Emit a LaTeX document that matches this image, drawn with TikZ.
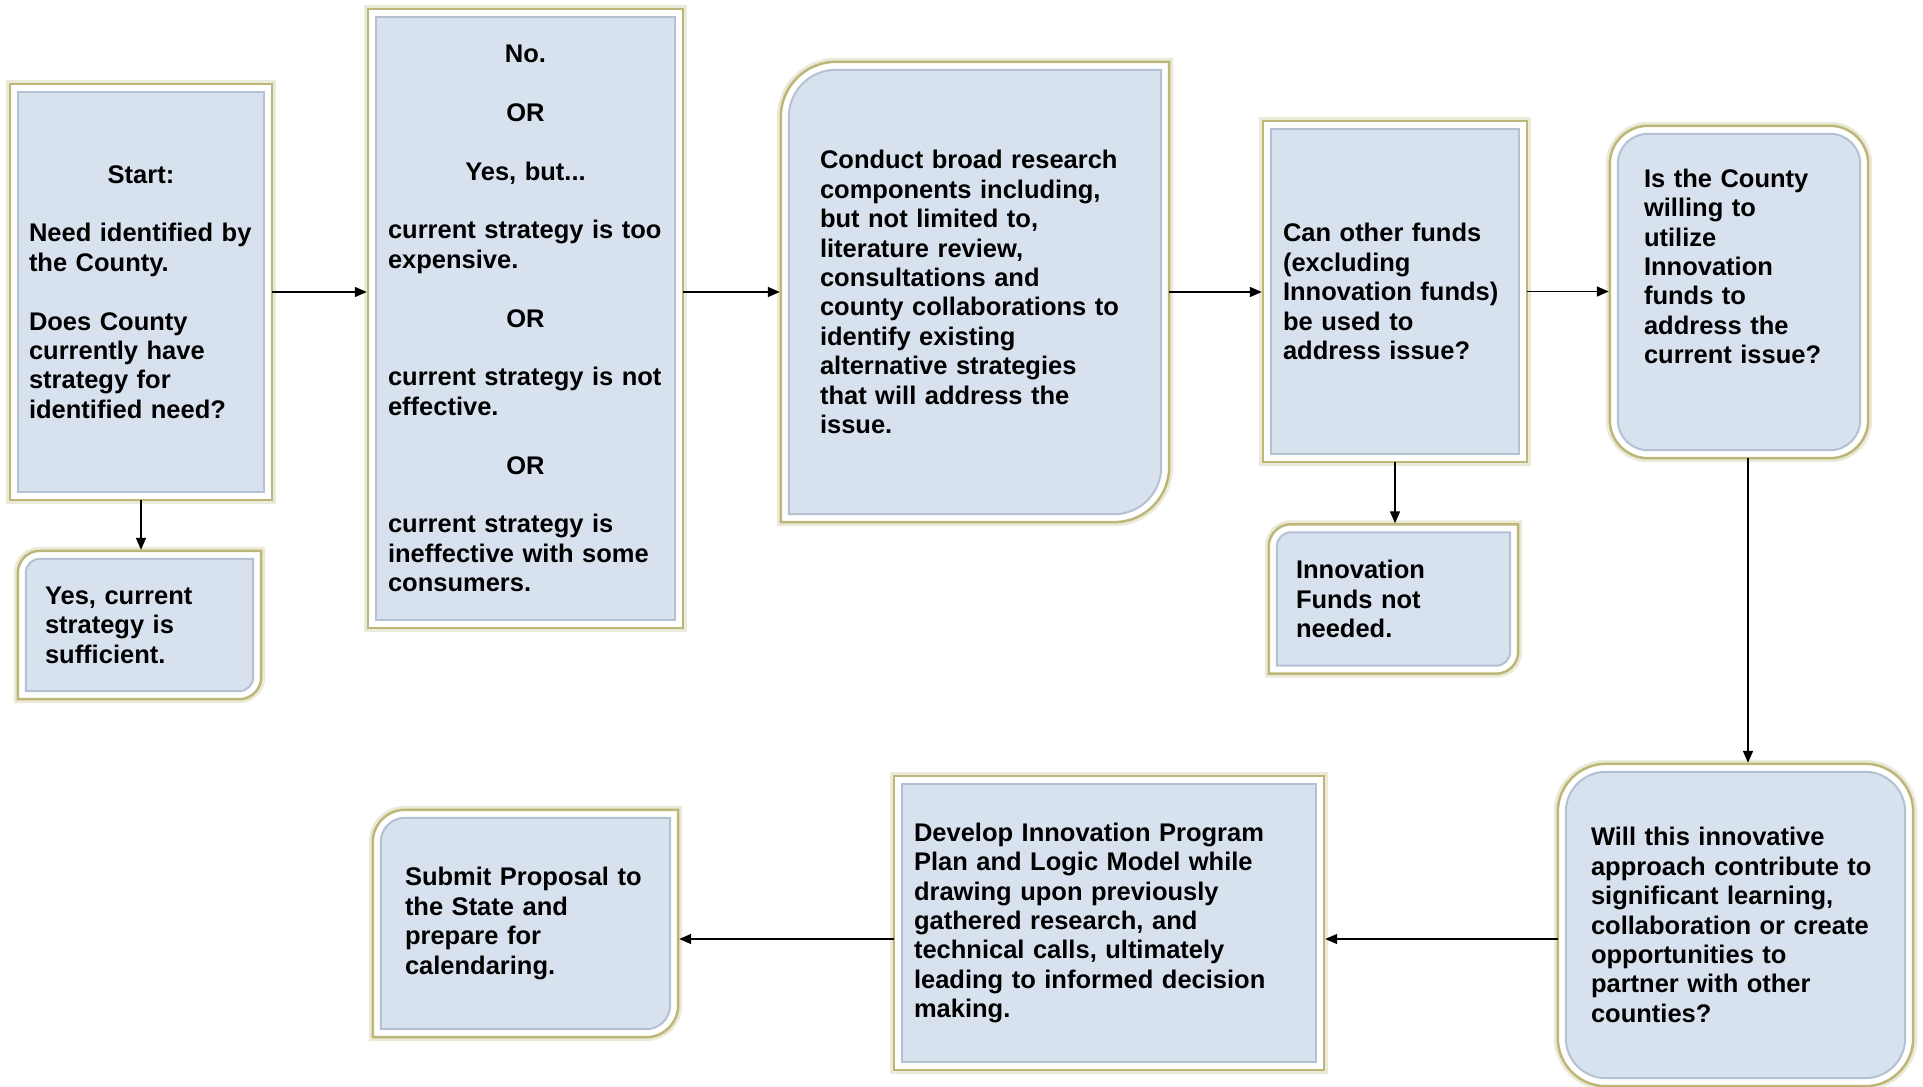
\documentclass[tikz,border=0pt]{standalone}
\usepackage{fontspec}
\setmainfont{Liberation Sans}
\usetikzlibrary{arrows.meta, calc, backgrounds}
\definecolor{cardblue}{HTML}{D8E2EF}
\definecolor{bevel}{HTML}{B3C1D3}
\definecolor{glow}{HTML}{BDB679}

\begin{document}
\begin{tikzpicture}[x=1pt, y=-1pt,
  card/.style={inner sep=0pt, align=left, text=black,
    font=\fontsize{25.5}{29.4}\selectfont\bfseries},
  frame/.style={fill=white, draw=glow, line width=2.5pt,
    preaction={draw=glow, line width=8pt, opacity=0.3}},
  core/.style={fill=cardblue, draw=bevel, line width=2pt},
  arr/.style={-{Triangle[length=12pt, width=10pt]}, line width=1.6pt, shorten >=1pt}]

\useasboundingbox (0,0) rectangle (1923,1087);

% Top row
\node[card, minimum width=262pt, minimum height=416pt, text width=224pt] (start) at (141,292)
  {\makebox[\linewidth]{Start:}\\[29.4pt]
   Need identified by\\ the County.\\[29.4pt]
   Does County\\ currently have\\ strategy for\\ identified need?};
\node[card, minimum width=243pt, minimum height=148pt, text width=189pt] (yes) at (139.5,625)
  {Yes, current\\ strategy is\\ sufficient.};
\node[card, minimum width=315pt, minimum height=619pt, text width=275pt] (nobox) at (525.5,318.5)
  {\makebox[\linewidth]{No.}\\[29.4pt]
   \makebox[\linewidth]{OR}\\[29.4pt]
   \makebox[\linewidth]{Yes, but...}\\[29.4pt]
   current strategy is too\\ expensive.\\[29.4pt]
   \makebox[\linewidth]{OR}\\[29.4pt]
   current strategy is not\\ effective.\\[29.4pt]
   \makebox[\linewidth]{OR}\\[29.4pt]
   current strategy is\\ ineffective with some\\ consumers.};
\node[card, minimum width=388pt, minimum height=460pt, text width=310pt] (conduct) at (975,292)
  {Conduct broad research\\ components including,\\ but not limited to,\\
   literature review,\\ consultations and\\ county collaborations to\\
   identify existing\\ alternative strategies\\ that will address the\\ issue.};
\node[card, minimum width=264pt, minimum height=341pt, text width=224pt] (other) at (1395,291.5)
  {Can other funds\\ (excluding\\ Innovation funds)\\ be used to\\ address issue?};
\node[card, minimum width=249pt, minimum height=149pt, text width=195pt] (notneeded) at (1393.5,599)
  {Innovation\\ Funds not\\ needed.};
\node[card, minimum width=258pt, minimum height=332pt, text width=190pt] (willing) at (1739,292)
  {Is the County\\ willing to\\ utilize\\ Innovation\\ funds to\\ address the\\ current issue?\\[22pt]\mbox{}};

% Bottom row
\node[card, minimum width=355pt, minimum height=322pt, text width=289pt] (will) at (1735.5,925)
  {Will this innovative\\ approach contribute to\\ significant learning,\\
   collaboration or create\\ opportunities to\\ partner with other\\ counties?};
\node[card, minimum width=430pt, minimum height=294pt, text width=390pt] (develop) at (1109,923)
  {Develop Innovation Program\\ Plan and Logic Model while\\ drawing upon previously\\
   gathered research, and\\ technical calls, ultimately\\ leading to informed decision\\ making.};
\node[card, minimum width=305pt, minimum height=227pt, text width=241pt] (submit) at (525.5,923.5)
  {Submit Proposal to\\ the State and\\ prepare for\\ calendaring.};

% Frames: white border with glow, blue core (corner radii TL=BR / TR=BL)
\begin{scope}[on background layer]
\foreach \nm/\ra/\rb in {start/0/0, yes/22/0, nobox/0/0, conduct/55/0, other/0/0,
    notneeded/22/0, willing/38/38, will/48/48, develop/0/0, submit/32/0} {
  \foreach \ins/\sty in {0/frame, 8/core} {
    \pgfmathsetmacro\rA{max(\ra-\ins,0)}
    \pgfmathsetmacro\rB{max(\rb-\ins,0)}
    \coordinate (p) at ($(\nm.north west)+(\ins,\ins)$);
    \coordinate (q) at ($(\nm.south east)-(\ins,\ins)$);
    \coordinate (tr) at (p -| q);
    \coordinate (bl) at (q -| p);
    \path[\sty] ($(p)+(0,\rA)$) .. controls ($(p)+(0,0.45*\rA)$) and ($(p)+(0.45*\rA,0)$) .. ($(p)+(\rA,0)$)
      -- ($(tr)-(\rB,0)$) .. controls ($(tr)-(0.45*\rB,0)$) and ($(tr)+(0,0.45*\rB)$) .. ($(tr)+(0,\rB)$)
      -- ($(q)-(0,\rA)$) .. controls ($(q)-(0,0.45*\rA)$) and ($(q)-(0.45*\rA,0)$) .. ($(q)-(\rA,0)$)
      -- ($(bl)+(\rB,0)$) .. controls ($(bl)+(0.45*\rB,0)$) and ($(bl)-(0,0.45*\rB)$) .. ($(bl)-(0,\rB)$)
      -- cycle;
  }
}
\end{scope}

% Connectors
\draw[arr] (start.east) -- (start.east -| nobox.west);
\draw[arr] (start.south) -- (start.south |- yes.north);
\draw[arr] (nobox.east |- conduct.west) -- (conduct.west);
\draw[arr] (conduct.east) -- (conduct.east -| other.west);
\draw[arr] (other.east) -- (other.east -| willing.west);
\draw[arr] (other.south) -- (other.south |- notneeded.north);
\coordinate (wa) at ($(willing.south)+(9,0)$);
\draw[arr] (wa) -- (wa |- will.north);
\coordinate (wb) at ($(will.west)+(0,14)$);
\draw[arr] (wb) -- (wb -| develop.east);
\coordinate (db) at ($(develop.west)+(0,16)$);
\draw[arr] (db) -- (db -| submit.east);

\end{tikzpicture}
\end{document}
